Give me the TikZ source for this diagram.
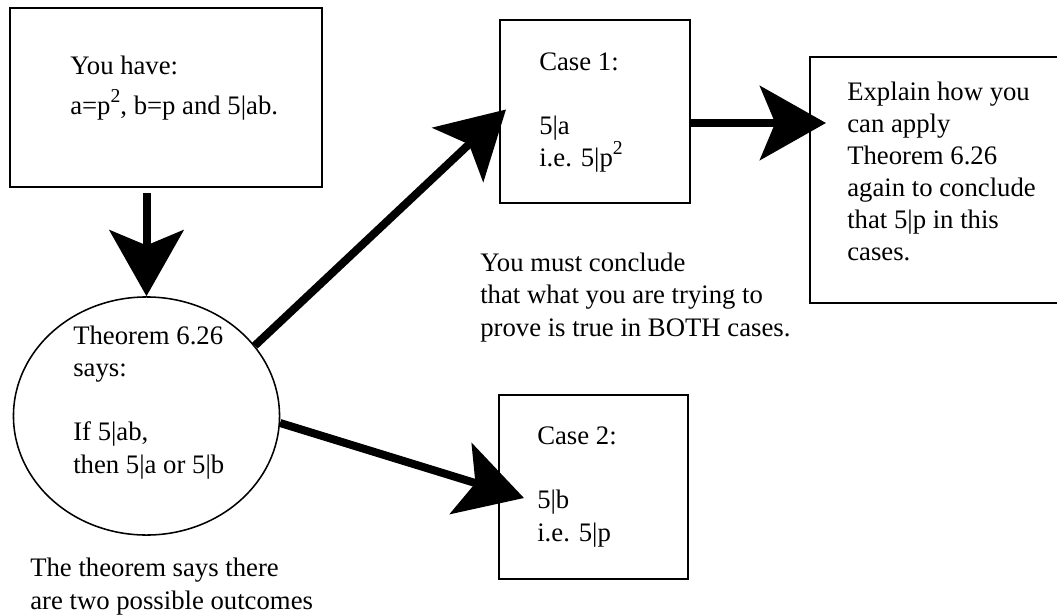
\documentclass[tikz,border=0pt]{standalone}
\usepackage{fontspec}
\setmainfont{Liberation Serif}
\usetikzlibrary{shapes.geometric, arrows.meta, positioning, calc}

\newcommand{\sqtwo}{\raisebox{0.45em}{\fontsize{14}{14}\selectfont 2}}

\begin{document}
\begin{tikzpicture}[
    x=0.025cm, y=-0.025cm,
    casebox/.style={rectangle, draw=black, line width=1.4pt, inner sep=0pt},
    thmcircle/.style={ellipse, draw=black, line width=1.1pt, inner sep=0pt},
    txt/.style={anchor=base west, align=left, inner sep=0pt,
                font=\fontsize{19}{22.76}\selectfont},
    arrow/.style={-{Stealth[length=1.65cm, width=1.85cm, inset=0.38cm]}, line width=0.2cm}
]
    \useasboundingbox (0,0) rectangle (1057,616);

    % Starting point (texts are placed by their last baseline)
    \node[casebox, minimum width=7.8cm, minimum height=4.475cm] (have) at (166,97.5) {};
    \node[txt] (havetxt) at (70,115) {You have:\\[0.2cm]a=p\sqtwo, b=p and 5|ab.};

    % Theorem
    \node[thmcircle, minimum width=6.65cm, minimum height=5.95cm] (thm) at (146.5,416) {};
    \node[txt] (thmtxt) at (73,473) {Theorem 6.26\\says:\\[0.8cm]If 5|ab,\\then 5|a or 5|b};
    \node[txt] (outcomes) at (30,609) {The theorem says there\\are two possible outcomes};

    % Cases
    \node[casebox, minimum width=4.75cm, minimum height=4.575cm] (case1) at (595,111.5) {};
    \node[txt] (case1txt) at (539,167) {Case 1:\\[0.8cm]5|a\\i.e. 5|p\sqtwo};

    \node[casebox, minimum width=4.725cm, minimum height=4.6cm] (case2) at (593.5,487) {};
    \node[txt] (case2txt) at (537,541) {Case 2:\\[0.8cm]5|b\\i.e. 5|p};

    \node[txt] (conclude) at (480,336) {You must conclude\\that what you are trying to\\prove is true in BOTH cases.};

    % Explanation (runs off the right edge)
    \node[casebox, minimum width=6.375cm, minimum height=6.15cm] (explain) at (937.5,180) {};
    \node[txt] (explaintxt) at (847,261) {Explain how you\\can apply\\Theorem 6.26\\again to conclude\\that 5|p in this\\cases.};

    % Arrows
    \draw[arrow, shorten <=0.125cm] (have.south -| thm.north) -- (thm.north);
    \draw[arrow] (thm.33) -- ($(case1.west)+(7,-2)$);
    \draw[arrow] (thm.-3) -- ($(case2.west)+(26,11)$);
    \draw[arrow] ($(case1.east)+(0,11.5)$) -- ($(case1.east -| explain.west)+(17,11.5)$);
\end{tikzpicture}
\end{document}
